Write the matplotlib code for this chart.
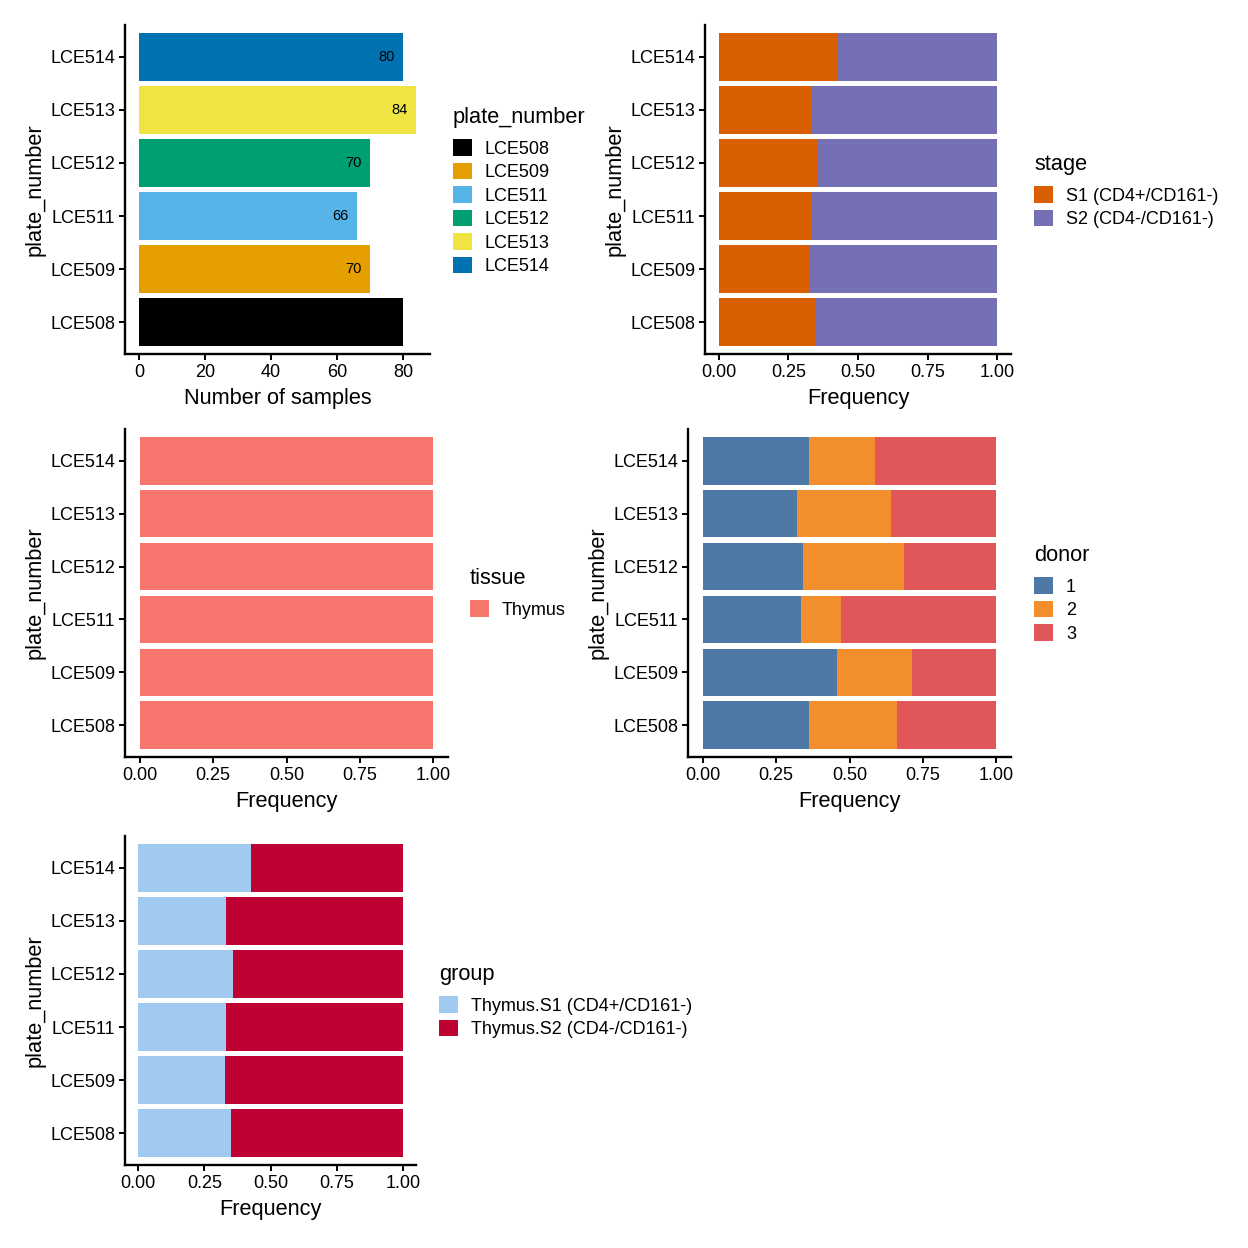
import numpy as np
import matplotlib
matplotlib.use('Agg')
import matplotlib.pyplot as plt
from matplotlib.patches import Patch

plt.rcParams['font.family'] = ['Liberation Sans', 'DejaVu Sans']

# data (counts per plate)
plates = ['LCE508', 'LCE509', 'LCE511', 'LCE512', 'LCE513', 'LCE514']
n_samples = [80, 70, 66, 70, 84, 80]
plate_colors = ['#000000', '#E69F00', '#56B4E9', '#009E73', '#F0E442', '#0072B2']

stage_labels = ['S1 (CD4+/CD161-)', 'S2 (CD4-/CD161-)']
stage_s1 = [28, 23, 22, 25, 28, 34]
stage_s2 = [52, 47, 44, 45, 56, 46]
stage_colors = ['#D95F02', '#7570B3']

tissue_labels = ['Thymus']
tissue_thymus = [80, 70, 66, 70, 84, 80]
tissue_colors = ['#F8766D']

donor_labels = ['1', '2', '3']
donor_1 = [29, 32, 22, 24, 27, 29]
donor_2 = [24, 18, 9, 24, 27, 18]
donor_3 = [27, 20, 35, 22, 30, 33]
donor_colors = ['#4E79A7', '#F28E2B', '#E15759']

group_labels = ['Thymus.S1 (CD4+/CD161-)', 'Thymus.S2 (CD4-/CD161-)']
group_s1 = [28, 23, 22, 25, 28, 34]
group_s2 = [52, 47, 44, 45, 56, 46]
group_colors = ['#A1CAF1', '#BE0032']

W = 1248.0
TICK_FS = 13
TITLE_FS = 15.7


def px_axes(fig, left, top, right, bottom):
    # axes placed from pixel edges
    return fig.add_axes([left / W, 1 - bottom / W, (right - left) / W, (bottom - top) / W])


def style(ax):
    for s in ['top', 'right']:
        ax.spines[s].set_visible(False)
    for s in ['left', 'bottom']:
        ax.spines[s].set_linewidth(1.7)
    ax.tick_params(length=4.5, width=1.4, direction='out', labelsize=TICK_FS,
                   colors='black', pad=2.5)
    ax.set_ylabel('plate_number', fontsize=TITLE_FS, labelpad=3)
    ax.set_ylim(-0.6, len(plates) - 0.4)
    ax.set_yticks(range(len(plates)))
    ax.set_yticklabels(plates)


def add_legend(ax, labels, colors, title, x, y):
    handles = [Patch(facecolor=c, edgecolor='none', label=l) for l, c in zip(labels, colors)]
    leg = ax.legend(handles=handles, title=title, loc='upper left',
                    bbox_to_anchor=(x / W, 1 - y / W), bbox_transform=ax.figure.transFigure,
                    frameon=False, fontsize=TICK_FS, title_fontsize=TITLE_FS,
                    handlelength=1.05, handleheight=1.05, handletextpad=0.72,
                    labelspacing=0.274, borderpad=0, borderaxespad=0, alignment='left')
    # more room between legend title and keys
    leg._legend_box.sep = 8.1
    return leg


def stacked_panel(ax, series, labels, colors, title, lx, ly):
    y = np.arange(len(plates))
    totals = np.sum(series, axis=0)
    left = np.zeros(len(plates))
    for vals, c in zip(series, colors):
        frac = np.array(vals) / totals
        ax.barh(y, frac, left=left, height=0.9, color=c)
        left += frac
    ax.set_xlim(-0.05, 1.05)
    ax.set_xticks([0, 0.25, 0.5, 0.75, 1.0])
    ax.set_xticklabels(['0.00', '0.25', '0.50', '0.75', '1.00'])
    ax.set_xlabel('Frequency', fontsize=TITLE_FS, labelpad=5)
    style(ax)
    add_legend(ax, labels, colors, title, lx, ly)


fig = plt.figure(figsize=(12.48, 12.48), dpi=100)

# panel 1: sample counts
ax1 = px_axes(fig, 125, 25, 430, 354)
y = np.arange(len(plates))
ax1.barh(y, n_samples, height=0.9, color=plate_colors)
for yi, v in zip(y, n_samples):
    ax1.annotate(str(v), (v, yi), xytext=(-6, 0), textcoords='offset points',
                 ha='right', va='center', fontsize=10.5, color='black')
ax1.set_xlim(-4.2, 88.2)
ax1.set_xticks([0, 20, 40, 60, 80])
ax1.set_xlabel('Number of samples', fontsize=TITLE_FS, labelpad=5)
style(ax1)
add_legend(ax1, plates, plate_colors, 'plate_number', 453, 107)

# panel 2: stage
ax2 = px_axes(fig, 705, 25, 1011, 354)
stacked_panel(ax2, [stage_s1, stage_s2], stage_labels, stage_colors, 'stage', 1034, 154)

# panel 3: tissue
ax3 = px_axes(fig, 125, 429, 448, 757)
stacked_panel(ax3, [tissue_thymus], tissue_labels, tissue_colors, 'tissue', 470, 568)

# panel 4: donor
ax4 = px_axes(fig, 688, 429, 1011, 757)
stacked_panel(ax4, [donor_1, donor_2, donor_3], donor_labels, donor_colors, 'donor', 1034, 545)

# panel 5: group
ax5 = px_axes(fig, 125, 836, 416, 1165)
stacked_panel(ax5, [group_s1, group_s2], group_labels, group_colors, 'group', 439, 964)

fig.savefig('out.png', dpi=100, facecolor='white')
